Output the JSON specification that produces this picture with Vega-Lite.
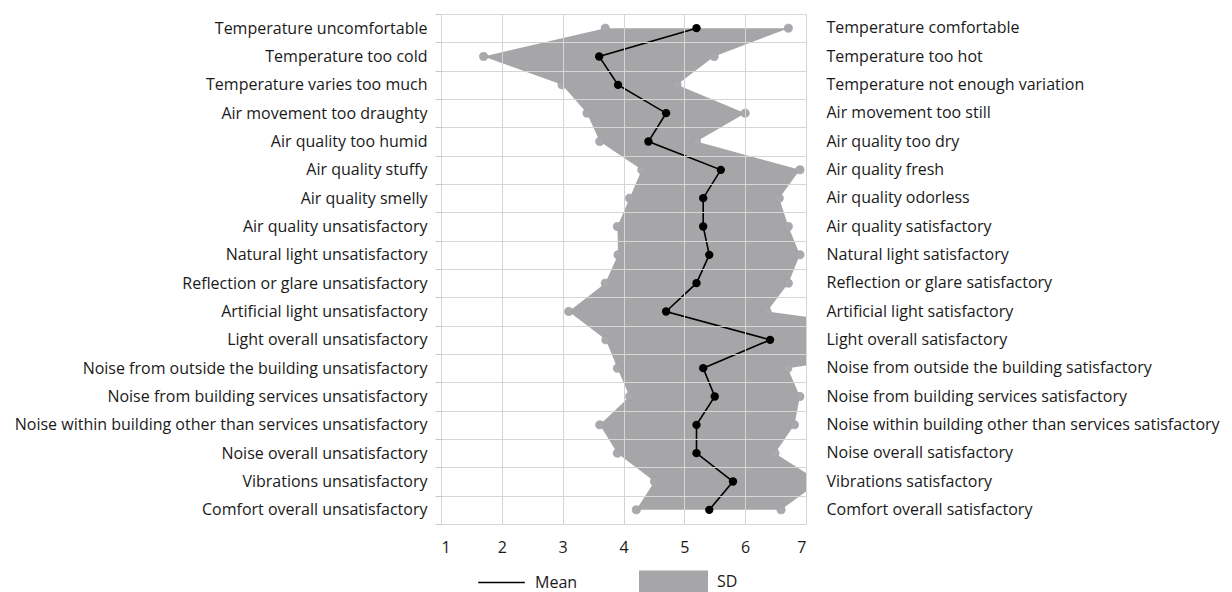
{
  "$schema": "https://vega.github.io/schema/vega-lite/v6.json",
  "width": 365,
  "height": 510,
  "autosize": {"type": "none"},
  "padding": {"left": 441, "top": 14, "right": 426, "bottom": 68},
  "background": "white",
  "config": {
    "view": {"stroke": null},
    "font": "Open Sans",
    "legend": {"labelFont": "Open Sans", "labelFontSize": 16, "labelColor": "#1a1a1a", "padding": 0}
  },
  "data": {
    "values": [
      {"row": 1, "left": "Temperature uncomfortable", "right": "Temperature comfortable", "mean": 5.2, "lo": 3.7, "hi": 6.71},
      {"row": 2, "left": "Temperature too cold", "right": "Temperature too hot", "mean": 3.6, "lo": 1.7, "hi": 5.49},
      {"row": 3, "left": "Temperature varies too much", "right": "Temperature not enough variation", "mean": 3.91, "lo": 2.99, "hi": 4.88},
      {"row": 4, "left": "Air movement too draughty", "right": "Air movement too still", "mean": 4.7, "lo": 3.4, "hi": 6.0},
      {"row": 5, "left": "Air quality too humid", "right": "Air quality too dry", "mean": 4.41, "lo": 3.61, "hi": 5.2},
      {"row": 6, "left": "Air quality stuffy", "right": "Air quality fresh", "mean": 5.6, "lo": 4.3, "hi": 6.9},
      {"row": 7, "left": "Air quality smelly", "right": "Air quality odorless", "mean": 5.31, "lo": 4.1, "hi": 6.56},
      {"row": 8, "left": "Air quality unsatisfactory", "right": "Air quality satisfactory", "mean": 5.31, "lo": 3.9, "hi": 6.71},
      {"row": 9, "left": "Natural light unsatisfactory", "right": "Natural light satisfactory", "mean": 5.41, "lo": 3.91, "hi": 6.9},
      {"row": 10, "left": "Reflection or glare unsatisfactory", "right": "Reflection or glare satisfactory", "mean": 5.2, "lo": 3.7, "hi": 6.71},
      {"row": 11, "left": "Artificial light unsatisfactory", "right": "Artificial light satisfactory", "mean": 4.7, "lo": 3.1, "hi": 6.36},
      {"row": 12, "left": "Light overall unsatisfactory", "right": "Light overall satisfactory", "mean": 6.41, "lo": 3.71, "hi": 9.8},
      {"row": 13, "left": "Noise from outside the building unsatisfactory", "right": "Noise from outside the building satisfactory", "mean": 5.31, "lo": 3.9, "hi": 6.7},
      {"row": 14, "left": "Noise from building services unsatisfactory", "right": "Noise from building services satisfactory", "mean": 5.5, "lo": 4.1, "hi": 6.9},
      {"row": 15, "left": "Noise within building other than services unsatisfactory", "right": "Noise within building other than services satisfactory", "mean": 5.2, "lo": 3.61, "hi": 6.81},
      {"row": 16, "left": "Noise overall unsatisfactory", "right": "Noise overall satisfactory", "mean": 5.2, "lo": 3.9, "hi": 6.49},
      {"row": 17, "left": "Vibrations unsatisfactory", "right": "Vibrations satisfactory", "mean": 5.8, "lo": 4.51, "hi": 7.22},
      {"row": 18, "left": "Comfort overall unsatisfactory", "right": "Comfort overall satisfactory", "mean": 5.41, "lo": 4.21, "hi": 6.59}
    ]
  },
  "layer": [
    {
      "mark": {"type": "point", "opacity": 0},
      "encoding": {
        "x": {
          "field": "mean", "type": "quantitative", "title": null,
          "scale": {"domain": [1, 7], "nice": false, "zero": false},
          "axis": {
            "values": [1, 2, 3, 4, 5, 6, 7], "format": "d", "grid": true, "gridColor": "#d4d4d4", "ticks": false, "domain": false,
            "labelFont": "Open Sans", "labelFontSize": 16, "labelColor": "#1a1a1a", "labelPadding": 15, "zindex": 1
          }
        },
        "y": {
          "field": "left", "type": "nominal", "sort": null, "bandPosition": 0.5, "title": null,
          "scale": {"type": "band", "paddingInner": 0, "paddingOuter": 0},
          "axis": {
            "orient": "left", "tickBand": "extent", "grid": true, "gridColor": "#d6d6d6", "gridWidth": 1,
            "ticks": true, "tickSize": 6, "tickColor": "#c8c8c8", "domain": false, "zindex": 1,
            "labelFont": "Open Sans", "labelFontSize": 16, "labelColor": "#1a1a1a", "labelPadding": 8, "labelLimit": 600
          }
        }
      }
    },
    {
      "encoding": {
        "y": {
          "field": "row", "type": "quantitative", "title": null,
          "scale": {"domain": [0.5, 18.5], "reverse": true, "nice": false, "zero": false},
          "axis": null
        }
      },
      "layer": [
        {
          "mark": {"type": "area", "clip": true},
          "encoding": {
            "x": {"field": "lo", "type": "quantitative", "title": null},
            "x2": {"field": "hi"},
            "fill": {
              "datum": "SD", "type": "nominal",
              "scale": {"range": ["#a6a6a8"]},
              "legend": {
                "title": null, "orient": "none", "legendX": 198, "legendY": 533,
                "symbolType": "M-1,-0.32H1V0.32H-1Z", "symbolSize": 4761, "symbolStrokeWidth": 0,
                "labelOffset": 9, "labelFontSize": 16
              }
            }
          }
        },
        {
          "mark": {"type": "point", "filled": true, "clip": true, "fill": "#a9a9ab", "stroke": "#9aa2aa", "strokeWidth": 0.8, "size": 65, "opacity": 1},
          "encoding": {"x": {"field": "lo", "type": "quantitative", "title": null}}
        },
        {
          "mark": {"type": "point", "filled": true, "clip": true, "fill": "#a9a9ab", "stroke": "#9aa2aa", "strokeWidth": 0.8, "size": 65, "opacity": 1},
          "encoding": {"x": {"field": "hi", "type": "quantitative", "title": null}}
        },
        {
          "mark": {"type": "line", "strokeWidth": 1.6, "clip": true},
          "encoding": {
            "x": {"field": "mean", "type": "quantitative", "title": null},
            "order": {"field": "row", "type": "quantitative"},
            "stroke": {
              "datum": "Mean", "type": "nominal",
              "scale": {"range": ["#000000"]},
              "legend": {
                "title": null, "orient": "none", "legendX": 36, "legendY": 544,
                "symbolType": "stroke", "symbolSize": 2172, "symbolStrokeWidth": 1.6,
                "labelOffset": 9, "labelFontSize": 16
              }
            }
          }
        },
        {
          "mark": {"type": "point", "filled": true, "color": "#000000", "size": 70, "opacity": 1},
          "encoding": {"x": {"field": "mean", "type": "quantitative", "title": null}}
        }
      ]
    },
    {
      "mark": {"type": "point", "opacity": 0},
      "encoding": {
        "x": {"field": "mean", "type": "quantitative", "title": null},
        "y": {
          "field": "right", "type": "nominal", "sort": null, "bandPosition": 0.5, "title": null,
          "scale": {"type": "band", "paddingInner": 0, "paddingOuter": 0},
          "axis": {
            "orient": "right", "grid": false, "ticks": false, "domain": false,
            "labelFont": "Open Sans", "labelFontSize": 16, "labelColor": "#1a1a1a", "labelPadding": 20, "labelLimit": 600
          }
        }
      }
    }
  ],
  "resolve": {"scale": {"y": "independent"}, "axis": {"y": "independent"}}
}
